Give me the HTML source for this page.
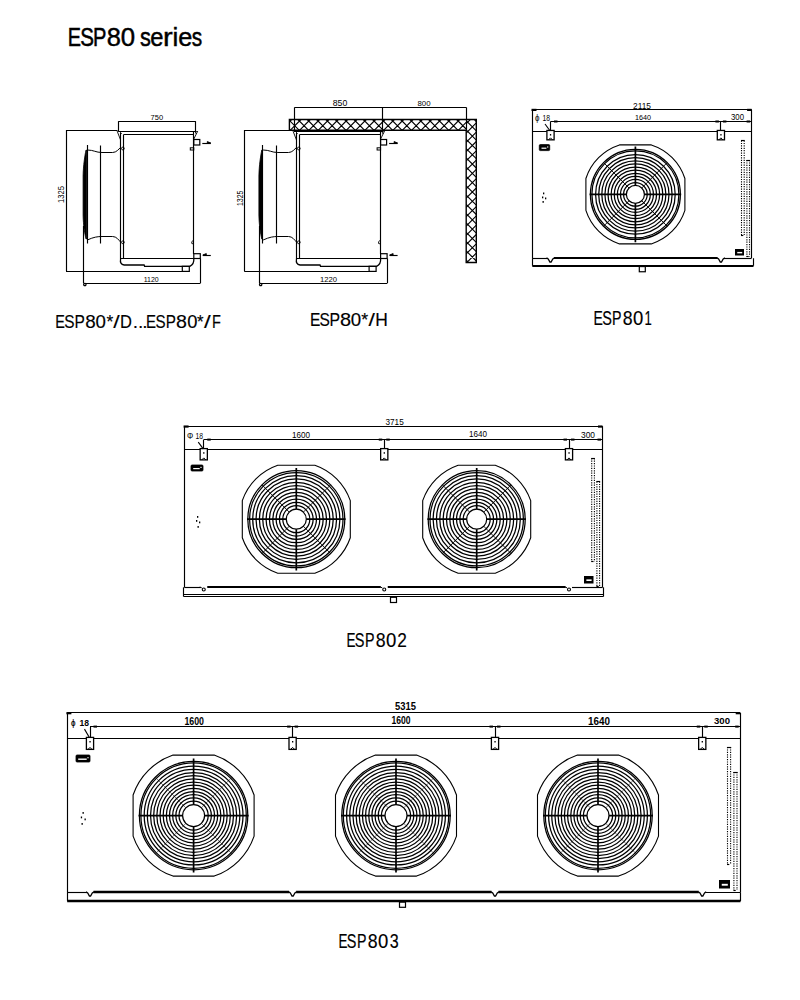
<!DOCTYPE html>
<html><head><meta charset="utf-8"><style>
html,body{margin:0;padding:0;background:#fff;width:800px;height:1000px;overflow:hidden}
svg{position:absolute;left:0;top:0}
</style></head><body>
<svg width="800" height="1000" viewBox="0 0 800 1000" stroke="#000" fill="none" style="font-family:'Liberation Sans',sans-serif">
<line x1="66.5" y1="130" x2="66.5" y2="271.4" stroke-width="1.15"/>
<line x1="66" y1="130.5" x2="117.5" y2="130.5" stroke-width="1.15"/>
<line x1="66" y1="271.5" x2="189.3" y2="271.5" stroke-width="1.15"/>
<path d="M86.0,150 L86.5,150 L86.5,239 L86.0,239 C84.8,234 83.3,226 83.1,215 L83.1,176 C83.3,165 84.8,156 86.0,150 Z" stroke-width="0.8" fill="#000"/>
<line x1="87.5" y1="145" x2="87.5" y2="243.5" stroke-width="1.15"/>
<line x1="83.5" y1="226" x2="83.5" y2="283.3" stroke-width="1.15"/>
<line x1="100.5" y1="145.5" x2="100.5" y2="243.5" stroke-width="1.15"/>
<path d="M87.3,150 C93.8,150 95.8,152.5 102,152.5 L112.6,152.5 C116.6,152.5 118.6,149 120.6,147.5" stroke-width="1.0" fill="none"/>
<path d="M87.3,240 C93.8,237 97.8,236.5 102,236.5 L112.6,236.5 C116.6,236.5 118.6,240 120.6,242" stroke-width="1.0" fill="none"/>
<circle cx="122.89999999999999" cy="148.5" r="1.4" stroke-width="0.9" fill="none"/>
<circle cx="122.89999999999999" cy="242.3" r="1.4" stroke-width="0.9" fill="none"/>
<line x1="118.1" y1="131.5" x2="196.8" y2="131.5" stroke-width="1.15"/>
<line x1="123.89999999999999" y1="134.5" x2="193.8" y2="134.5" stroke-width="1.15"/>
<line x1="120.5" y1="133" x2="120.5" y2="259" stroke-width="1.15"/>
<line x1="123.5" y1="134.4" x2="123.5" y2="258.7" stroke-width="1.15"/>
<line x1="193.5" y1="131.2" x2="193.5" y2="254" stroke-width="1.15"/>
<path d="M117.1,131 L120.6,140 M119.6,131 L121.6,134" stroke-width="0.9" fill="none"/>
<path d="M197.8,131 L193.8,139 M194.8,131 L196.3,134" stroke-width="0.9" fill="none"/>
<rect x="193.8" y="139.5" width="6" height="5.5" stroke-width="1.2" fill="none"/>
<line x1="202.3" y1="143.5" x2="210.8" y2="143.5" stroke-width="1.15"/>
<path d="M210.8,143 L207.3,141.5 L207.3,143 Z" stroke-width="0.8" fill="#000"/>
<rect x="190.3" y="147.8" width="3.5" height="2.2" stroke-width="1.0" fill="none"/>
<path d="M193.8,240 Q190.8,241.5 191.8,243.5 L193.8,244" stroke-width="0.9" fill="none"/>
<rect x="193.8" y="253.7" width="6.5" height="4.8" stroke-width="1.2" fill="none"/>
<line x1="202.8" y1="255.5" x2="210.8" y2="255.5" stroke-width="1.15"/>
<path d="M202.8,255 L206.3,253.5 L206.3,255 Z" stroke-width="0.8" fill="#000"/>
<line x1="200.5" y1="258.5" x2="200.5" y2="283.3" stroke-width="1.15"/>
<line x1="120.6" y1="258.5" x2="193.8" y2="258.5" stroke-width="1.15"/>
<path d="M120.6,258.75 Q119.6,264.5 124.1,265 L144.1,265 L144.6,266.3 L189.8,266.3 Q194.3,264 193.8,258.75" stroke-width="1.3" fill="none"/>
<rect x="182.3" y="266.3" width="7" height="5.1" stroke-width="1.2" fill="none"/>
<line x1="83.8" y1="283.5" x2="200.3" y2="283.5" stroke-width="1.15"/>
<path d="M83.8,283.3 m1,0 a1.2,1.2 0 1 0 0.1,0" stroke-width="1.2" fill="none"/>
<line x1="118.39999999999999" y1="121.5" x2="195.8" y2="121.5" stroke-width="1.15"/>
<line x1="118.5" y1="121.25" x2="118.5" y2="131" stroke-width="1.15"/>
<line x1="195.5" y1="121.25" x2="195.5" y2="131" stroke-width="1.15"/>
<text x="61.150000000000006" y="197.5" fill="#000" stroke="none" font-size="8.52" font-weight="normal" text-anchor="middle" textLength="16.90" lengthAdjust="spacingAndGlyphs" transform="rotate(-90 61.150000000000006 194.45)">1325</text>
<text x="150.60" y="120.00" fill="#000" stroke="none" font-size="7.82" font-weight="normal" textLength="12.50" lengthAdjust="spacingAndGlyphs">750</text>
<text x="143.75" y="282.00" fill="#000" stroke="none" font-size="8.03" font-weight="normal" textLength="15.00" lengthAdjust="spacingAndGlyphs">1120</text>
<line x1="244.3" y1="130.5" x2="289" y2="130.5" stroke-width="1.15"/>
<line x1="244.5" y1="130" x2="244.5" y2="271.4" stroke-width="1.15"/>
<line x1="244.3" y1="271.5" x2="376.1" y2="271.5" stroke-width="1.15"/>
<path d="M261.8,150 L262.3,150 L262.3,239 L261.8,239 C260.6,234 259.1,226 258.90000000000003,215 L258.90000000000003,176 C259.1,165 260.6,156 261.8,150 Z" stroke-width="0.8" fill="#000"/>
<line x1="262.5" y1="145" x2="262.5" y2="243.5" stroke-width="1.15"/>
<line x1="259.5" y1="226" x2="259.5" y2="283.3" stroke-width="1.15"/>
<line x1="276.5" y1="145.5" x2="276.5" y2="243.5" stroke-width="1.15"/>
<path d="M263.1,150 C269.6,150 271.6,152.5 277.9,152.5 L288.5,152.5 C292.5,152.5 294.5,149 296.5,147.5" stroke-width="1.0" fill="none"/>
<path d="M263.1,240 C269.6,237 273.6,236.5 277.9,236.5 L288.5,236.5 C292.5,236.5 294.5,240 296.5,242" stroke-width="1.0" fill="none"/>
<circle cx="298.8" cy="148.5" r="1.4" stroke-width="0.9" fill="none"/>
<circle cx="298.8" cy="242.3" r="1.4" stroke-width="0.9" fill="none"/>
<line x1="294.0" y1="131.5" x2="383.6" y2="131.5" stroke-width="1.15"/>
<line x1="299.8" y1="134.5" x2="380.6" y2="134.5" stroke-width="1.15"/>
<line x1="296.5" y1="133" x2="296.5" y2="259" stroke-width="1.15"/>
<line x1="299.5" y1="134.4" x2="299.5" y2="258.7" stroke-width="1.15"/>
<line x1="380.5" y1="131.2" x2="380.5" y2="254" stroke-width="1.15"/>
<path d="M293.0,131 L296.5,140 M295.5,131 L297.5,134" stroke-width="0.9" fill="none"/>
<path d="M384.6,131 L380.6,139 M381.6,131 L383.1,134" stroke-width="0.9" fill="none"/>
<rect x="380.6" y="139.5" width="6" height="5.5" stroke-width="1.2" fill="none"/>
<line x1="389.1" y1="143.5" x2="397.6" y2="143.5" stroke-width="1.15"/>
<path d="M397.6,143 L394.1,141.5 L394.1,143 Z" stroke-width="0.8" fill="#000"/>
<rect x="377.1" y="147.8" width="3.5" height="2.2" stroke-width="1.0" fill="none"/>
<path d="M380.6,240 Q377.6,241.5 378.6,243.5 L380.6,244" stroke-width="0.9" fill="none"/>
<rect x="380.6" y="253.7" width="6.5" height="4.8" stroke-width="1.2" fill="none"/>
<line x1="389.6" y1="255.5" x2="397.6" y2="255.5" stroke-width="1.15"/>
<path d="M389.6,255 L393.1,253.5 L393.1,255 Z" stroke-width="0.8" fill="#000"/>
<line x1="387.5" y1="258.5" x2="387.5" y2="283.3" stroke-width="1.15"/>
<line x1="296.5" y1="258.5" x2="380.6" y2="258.5" stroke-width="1.15"/>
<path d="M296.5,258.75 Q295.5,264.5 300.0,265 L320.0,265 L320.5,266.3 L376.6,266.3 Q381.1,264 380.6,258.75" stroke-width="1.3" fill="none"/>
<rect x="369.1" y="266.3" width="7" height="5.1" stroke-width="1.2" fill="none"/>
<line x1="259.6" y1="283.5" x2="387.1" y2="283.5" stroke-width="1.15"/>
<path d="M259.6,283.3 m1,0 a1.2,1.2 0 1 0 0.1,0" stroke-width="1.2" fill="none"/>
<clipPath id="c1"><rect x="289.4" y="119.5" width="176.8" height="10.800000000000011"/></clipPath>
<path d="M260.49,119.5 L271.29,130.3 M263.59,119.5 L252.78999999999996,130.3 M269.83000000000004,119.5 L280.63000000000005,130.3 M272.93,119.5 L262.13,130.3 M279.17,119.5 L289.97,130.3 M282.27,119.5 L271.46999999999997,130.3 M288.51000000000005,119.5 L299.31000000000006,130.3 M291.61,119.5 L280.81,130.3 M297.85,119.5 L308.65000000000003,130.3 M300.95,119.5 L290.15,130.3 M307.19,119.5 L317.99,130.3 M310.28999999999996,119.5 L299.48999999999995,130.3 M316.53000000000003,119.5 L327.33000000000004,130.3 M319.63,119.5 L308.83,130.3 M325.87,119.5 L336.67,130.3 M328.96999999999997,119.5 L318.16999999999996,130.3 M335.21000000000004,119.5 L346.01000000000005,130.3 M338.31,119.5 L327.51,130.3 M344.55,119.5 L355.35,130.3 M347.65,119.5 L336.84999999999997,130.3 M353.89000000000004,119.5 L364.69000000000005,130.3 M356.99,119.5 L346.19,130.3 M363.23,119.5 L374.03000000000003,130.3 M366.33,119.5 L355.53,130.3 M372.57000000000005,119.5 L383.37000000000006,130.3 M375.66999999999996,119.5 L364.86999999999995,130.3 M381.91,119.5 L392.71000000000004,130.3 M385.01,119.5 L374.21,130.3 M391.25,119.5 L402.05,130.3 M394.35,119.5 L383.55,130.3 M400.59000000000003,119.5 L411.39000000000004,130.3 M403.69,119.5 L392.89,130.3 M409.93,119.5 L420.73,130.3 M413.03,119.5 L402.22999999999996,130.3 M419.27000000000004,119.5 L430.07000000000005,130.3 M422.37,119.5 L411.57,130.3 M428.61,119.5 L439.41,130.3 M431.71,119.5 L420.90999999999997,130.3 M437.95000000000005,119.5 L448.75000000000006,130.3 M441.04999999999995,119.5 L430.24999999999994,130.3 M447.29,119.5 L458.09000000000003,130.3 M450.39,119.5 L439.59,130.3 M456.63,119.5 L467.43,130.3 M459.73,119.5 L448.93,130.3 M465.97,119.5 L476.77000000000004,130.3 M469.07,119.5 L458.27,130.3 M475.31000000000006,119.5 L486.11000000000007,130.3 M478.40999999999997,119.5 L467.60999999999996,130.3 M484.65000000000003,119.5 L495.45000000000005,130.3 M487.75,119.5 L476.95,130.3 " stroke-width="1.1" clip-path="url(#c1)"/>
<clipPath id="c2"><rect x="466.2" y="119.5" width="10.100000000000023" height="143.0"/></clipPath>
<path d="M466.2,92.8 L476.3,102.90000000000002 M466.2,95.8 L476.3,85.69999999999997 M466.2,102.1 L476.3,112.20000000000002 M466.2,105.1 L476.3,94.99999999999997 M466.2,111.4 L476.3,121.50000000000003 M466.2,114.4 L476.3,104.29999999999998 M466.2,120.7 L476.3,130.8 M466.2,123.7 L476.3,113.59999999999998 M466.2,130.0 L476.3,140.10000000000002 M466.2,133.0 L476.3,122.89999999999998 M466.2,139.3 L476.3,149.40000000000003 M466.2,142.3 L476.3,132.2 M466.2,148.6 L476.3,158.70000000000002 M466.2,151.6 L476.3,141.49999999999997 M466.2,157.9 L476.3,168.00000000000003 M466.2,160.9 L476.3,150.79999999999998 M466.2,167.2 L476.3,177.3 M466.2,170.2 L476.3,160.09999999999997 M466.2,176.5 L476.3,186.60000000000002 M466.2,179.5 L476.3,169.39999999999998 M466.2,185.8 L476.3,195.90000000000003 M466.2,188.8 L476.3,178.7 M466.2,195.10000000000002 L476.3,205.20000000000005 M466.2,198.10000000000002 L476.3,188.0 M466.2,204.4 L476.3,214.50000000000003 M466.2,207.4 L476.3,197.29999999999998 M466.2,213.7 L476.3,223.8 M466.2,216.7 L476.3,206.59999999999997 M466.2,223.0 L476.3,233.10000000000002 M466.2,226.0 L476.3,215.89999999999998 M466.2,232.3 L476.3,242.40000000000003 M466.2,235.3 L476.3,225.2 M466.2,241.60000000000002 L476.3,251.70000000000005 M466.2,244.60000000000002 L476.3,234.5 M466.2,250.9 L476.3,261.0 M466.2,253.9 L476.3,243.79999999999998 M466.2,260.20000000000005 L476.3,270.30000000000007 M466.2,263.20000000000005 L476.3,253.10000000000002 M466.2,269.5 L476.3,279.6 M466.2,272.5 L476.3,262.4 M466.2,278.8 L476.3,288.90000000000003 M466.2,281.8 L476.3,271.7 " stroke-width="1.1" clip-path="url(#c2)"/>
<path d="M289.4,130.3 L289.4,119.5 L476.3,119.5 L476.3,262.5 L466.2,262.5 L466.2,130.3 Z" stroke-width="1.4" fill="none"/>
<line x1="466.5" y1="119.5" x2="466.5" y2="130.3" stroke-width="1.15"/>
<line x1="294.4" y1="107.5" x2="466.5" y2="107.5" stroke-width="1.15"/>
<line x1="294.5" y1="107.5" x2="294.5" y2="130" stroke-width="1.15"/>
<line x1="382.5" y1="107.5" x2="382.5" y2="130" stroke-width="1.15"/>
<line x1="466.5" y1="107.5" x2="466.5" y2="119.5" stroke-width="1.15"/>
<text x="332.75" y="105.75" fill="#000" stroke="none" font-size="9.08" font-weight="normal" textLength="14.50" lengthAdjust="spacingAndGlyphs">850</text>
<text x="417.50" y="105.60" fill="#000" stroke="none" font-size="7.82" font-weight="normal" textLength="13.10" lengthAdjust="spacingAndGlyphs">800</text>
<text x="239.65" y="201.6" fill="#000" stroke="none" font-size="9.36" font-weight="normal" text-anchor="middle" textLength="15.50" lengthAdjust="spacingAndGlyphs" transform="rotate(-90 239.65 198.25)">1325</text>
<text x="320.00" y="281.50" fill="#000" stroke="none" font-size="7.68" font-weight="normal" textLength="17.00" lengthAdjust="spacingAndGlyphs">1220</text>
<line x1="532.3" y1="109.5" x2="751.6" y2="109.5" stroke-width="1.15"/>
<rect x="531.5" y="108.8" width="5" height="2.2" stroke="none" fill="#000"/>
<line x1="532.5" y1="109.6" x2="532.5" y2="258" stroke-width="1.15"/>
<line x1="751.5" y1="109.6" x2="751.5" y2="258" stroke-width="1.15"/>
<line x1="532.3" y1="131.5" x2="751.6" y2="131.5" stroke-width="1.15"/>
<line x1="550.5" y1="121.5" x2="751.6" y2="121.5" stroke-width="1.15"/>
<rect x="747.1" y="108.8" width="4.5" height="2.2" stroke="none" fill="#000"/>
<rect x="554.0" y="120.5" width="3.5" height="2.0" stroke="none" fill="#000"/>
<rect x="715.4" y="120.5" width="3.5" height="2.0" stroke="none" fill="#000"/>
<rect x="722.9" y="120.5" width="3.5" height="2.0" stroke="none" fill="#000"/>
<rect x="746.6" y="120.5" width="3.5" height="2.0" stroke="none" fill="#000"/>
<line x1="550.5" y1="121.5" x2="550.5" y2="131.25" stroke-width="1.15"/>
<rect x="546.9" y="130.45" width="7.2" height="9.4" stroke-width="1.3" fill="#fff"/>
<rect x="549.9" y="134.05" width="1.3" height="1.5" stroke="none" fill="#000"/>
<path d="M548.5,139.85 L550.5,137.85 L552.5,139.85" stroke-width="1.0" fill="none"/>
<line x1="720.5" y1="121.5" x2="720.5" y2="131.25" stroke-width="1.15"/>
<rect x="717.3" y="130.45" width="7.2" height="9.4" stroke-width="1.3" fill="#fff"/>
<rect x="720.3" y="134.05" width="1.3" height="1.5" stroke="none" fill="#000"/>
<path d="M718.9,139.85 L720.9,137.85 L722.9,139.85" stroke-width="1.0" fill="none"/>
<line x1="545.0" y1="124.0" x2="550.0" y2="130.75" stroke-width="1.1"/>
<text x="535.00" y="121.00" fill="#000" stroke="none" font-size="9.78" font-weight="normal" textLength="4.50" lengthAdjust="spacingAndGlyphs">ϕ</text>
<text x="542.50" y="120.50" fill="#000" stroke="none" font-size="8.38" font-weight="normal" textLength="7.50" lengthAdjust="spacingAndGlyphs">18</text>
<text x="635.00" y="119.50" fill="#000" stroke="none" font-size="7.68" font-weight="normal" textLength="16.00" lengthAdjust="spacingAndGlyphs">1640</text>
<text x="633.00" y="109.00" fill="#000" stroke="none" font-size="8.38" font-weight="normal" textLength="18.00" lengthAdjust="spacingAndGlyphs">2115</text>
<text x="731.00" y="120.00" fill="#000" stroke="none" font-size="9.08" font-weight="normal" textLength="13.00" lengthAdjust="spacingAndGlyphs">300</text>
<path d="M540.3,144.6 L548.6999999999999,144.6 Q549.6999999999999,144.6 549.6999999999999,145.6 L549.6999999999999,149.6 Q549.6999999999999,150.6 548.6999999999999,150.6 L540.3,150.6 Q539.3,150.6 539.3,149.6 L539.3,145.6 Q539.3,144.6 540.3,144.6 Z" stroke-width="0.8" fill="#000"/>
<rect x="541.5" y="147.6" width="4.9" height="1.2000000000000002" stroke="none" fill="#fff"/>
<rect x="547.0999999999999" y="146.4" width="1.2" height="1.2" stroke="none" fill="#fff"/>
<rect x="735" y="249" width="9" height="6.5" stroke="none" fill="#000"/>
<rect x="737.25" y="251.925" width="4.95" height="1.43" stroke="none" fill="#fff"/>
<line x1="741.5" y1="140.5" x2="741.5" y2="235" stroke-width="1.1" stroke-dasharray="1.2 1.2"/>
<line x1="741.0" y1="140.5" x2="744.7" y2="140.5" stroke-width="1.15"/>
<line x1="741.0" y1="235.5" x2="743.3" y2="235.5" stroke-width="1.15"/>
<line x1="744.2" y1="140.5" x2="744.2" y2="235" stroke-width="1.1" stroke-dasharray="1.2 1.2"/>
<line x1="746.9" y1="160" x2="746.9" y2="256.5" stroke-width="1.1" stroke-dasharray="1.2 1.2"/>
<line x1="746.4" y1="160.5" x2="750.0" y2="160.5" stroke-width="1.15"/>
<line x1="746.4" y1="256.5" x2="748.6999999999999" y2="256.5" stroke-width="1.15"/>
<line x1="749.5" y1="160" x2="749.5" y2="256.5" stroke-width="1.1" stroke-dasharray="1.2 1.2"/>
<path d="M619.470467677926,144.9 L651.329532322074,144.9 A52,52 0 0 1 684.9,178.47046767792602 L684.9,210.329532322074 A52,52 0 0 1 651.329532322074,243.9 L619.470467677926,243.9 A52,52 0 0 1 585.9,210.329532322074 L585.9,178.47046767792602 A52,52 0 0 1 619.470467677926,144.9 Z" stroke-width="1.1" fill="none"/>
<circle cx="635.4" cy="194.4" r="45" stroke-width="1.25" fill="none"/>
<circle cx="635.4" cy="194.4" r="43.5" stroke-width="1.25" fill="none"/>
<circle cx="635.4" cy="194.4" r="39.8" stroke-width="1.25" fill="none"/>
<circle cx="635.4" cy="194.4" r="36.69" stroke-width="1.25" fill="none"/>
<circle cx="635.4" cy="194.4" r="33.58" stroke-width="1.25" fill="none"/>
<circle cx="635.4" cy="194.4" r="30.47" stroke-width="1.25" fill="none"/>
<circle cx="635.4" cy="194.4" r="27.36" stroke-width="1.25" fill="none"/>
<circle cx="635.4" cy="194.4" r="24.24" stroke-width="1.25" fill="none"/>
<circle cx="635.4" cy="194.4" r="21.13" stroke-width="1.25" fill="none"/>
<circle cx="635.4" cy="194.4" r="18.02" stroke-width="1.25" fill="none"/>
<circle cx="635.4" cy="194.4" r="14.91" stroke-width="1.25" fill="none"/>
<circle cx="635.4" cy="194.4" r="11.8" stroke-width="1.25" fill="none"/>
<circle cx="635.4" cy="194.4" r="9" stroke-width="1.2" fill="none"/>
<path d="M589.6,194.4 L626.4,194.4 M644.4,194.4 L681.1999999999999,194.4 M635.4,146.60000000000002 L635.4,185.4 M635.4,203.4 L635.4,242.2" stroke-width="1.7" fill="none"/>
<line x1="629.036038969321" y1="188.03603896932108" x2="603.5801948466053" y2="162.58019484660537" stroke-width="0.9"/>
<line x1="629.036038969321" y1="200.76396103067893" x2="603.5801948466053" y2="226.21980515339465" stroke-width="0.9"/>
<line x1="641.763961030679" y1="188.03603896932108" x2="667.2198051533946" y2="162.58019484660537" stroke-width="0.9"/>
<line x1="641.763961030679" y1="200.76396103067893" x2="667.2198051533946" y2="226.21980515339465" stroke-width="0.9"/>
<line x1="532.3" y1="258.5" x2="547.5" y2="258.5" stroke-width="1.15"/>
<line x1="723.9" y1="258.5" x2="751.6" y2="258.5" stroke-width="1.15"/>
<line x1="554.0" y1="258" x2="717.4" y2="258" stroke-width="2.0"/>
<path d="M546.5,257.9 L548.2,259.0 L549.9,262.0 L551.1,262.0 L552.8,259.0 L554.5,257.9" stroke-width="1.3" fill="none"/>
<path d="M716.9,257.9 L718.6,259.0 L720.3,262.0 L721.5,262.0 L723.1999999999999,259.0 L724.9,257.9" stroke-width="1.3" fill="none"/>
<line x1="532.3" y1="266" x2="753.5" y2="266" stroke-width="2.0"/>
<line x1="532.5" y1="258.2" x2="532.5" y2="265.75" stroke-width="1.15"/>
<line x1="753.5" y1="258.2" x2="753.5" y2="265.75" stroke-width="1.15"/>
<rect x="639.3" y="266.55" width="6" height="5.2" stroke-width="1.2" fill="none"/>
<rect x="543" y="192.5" width="1.3" height="1.8" stroke="none" fill="#000"/>
<rect x="542" y="196.5" width="1.3" height="1.8" stroke="none" fill="#000"/>
<rect x="545" y="197.5" width="1.3" height="1.8" stroke="none" fill="#000"/>
<rect x="542.5" y="201" width="1.3" height="1.8" stroke="none" fill="#000"/>
<line x1="184.4" y1="426.5" x2="602.5" y2="426.5" stroke-width="1.15"/>
<rect x="183.6" y="425.45" width="5" height="2.2" stroke="none" fill="#000"/>
<line x1="184.5" y1="426.25" x2="184.5" y2="587.5" stroke-width="1.15"/>
<line x1="602.5" y1="426.25" x2="602.5" y2="587.5" stroke-width="1.15"/>
<line x1="184.4" y1="449.5" x2="602.5" y2="449.5" stroke-width="1.15"/>
<line x1="203.75" y1="439.5" x2="602.5" y2="439.5" stroke-width="1.15"/>
<rect x="598.0" y="425.45" width="4.5" height="2.2" stroke="none" fill="#000"/>
<rect x="207.25" y="438.6" width="3.5" height="2.0" stroke="none" fill="#000"/>
<rect x="378.75" y="438.6" width="3.5" height="2.0" stroke="none" fill="#000"/>
<rect x="386.25" y="438.6" width="3.5" height="2.0" stroke="none" fill="#000"/>
<rect x="563.5" y="438.6" width="3.5" height="2.0" stroke="none" fill="#000"/>
<rect x="571" y="438.6" width="3.5" height="2.0" stroke="none" fill="#000"/>
<rect x="597.5" y="438.6" width="3.5" height="2.0" stroke="none" fill="#000"/>
<line x1="203.5" y1="439.6" x2="203.5" y2="449.4" stroke-width="1.15"/>
<rect x="200.15" y="448.59999999999997" width="7.2" height="11.3" stroke-width="1.3" fill="#fff"/>
<rect x="203.15" y="452.2" width="1.3" height="1.5" stroke="none" fill="#000"/>
<path d="M201.75,459.9 L203.75,457.9 L205.75,459.9" stroke-width="1.0" fill="none"/>
<line x1="384.5" y1="439.6" x2="384.5" y2="449.4" stroke-width="1.15"/>
<rect x="380.65" y="448.59999999999997" width="7.2" height="11.3" stroke-width="1.3" fill="#fff"/>
<rect x="383.65" y="452.2" width="1.3" height="1.5" stroke="none" fill="#000"/>
<path d="M382.25,459.9 L384.25,457.9 L386.25,459.9" stroke-width="1.0" fill="none"/>
<line x1="569.5" y1="439.6" x2="569.5" y2="449.4" stroke-width="1.15"/>
<rect x="565.4" y="448.59999999999997" width="7.2" height="11.3" stroke-width="1.3" fill="#fff"/>
<rect x="568.4" y="452.2" width="1.3" height="1.5" stroke="none" fill="#000"/>
<path d="M567,459.9 L569,457.9 L571,459.9" stroke-width="1.0" fill="none"/>
<line x1="198.25" y1="442.1" x2="203.25" y2="448.9" stroke-width="1.1"/>
<text x="186.90" y="438.75" fill="#000" stroke="none" font-size="9.15" font-weight="normal" textLength="6.20" lengthAdjust="spacingAndGlyphs">Φ</text>
<text x="195.50" y="438.75" fill="#000" stroke="none" font-size="9.15" font-weight="normal" textLength="7.50" lengthAdjust="spacingAndGlyphs">18</text>
<text x="292.00" y="437.50" fill="#000" stroke="none" font-size="8.73" font-weight="normal" textLength="18.00" lengthAdjust="spacingAndGlyphs">1600</text>
<text x="469.00" y="437.40" fill="#000" stroke="none" font-size="8.94" font-weight="normal" textLength="18.00" lengthAdjust="spacingAndGlyphs">1640</text>
<text x="581.00" y="437.50" fill="#000" stroke="none" font-size="8.38" font-weight="normal" textLength="14.00" lengthAdjust="spacingAndGlyphs">300</text>
<text x="385.50" y="424.50" fill="#000" stroke="none" font-size="8.73" font-weight="normal" textLength="18.25" lengthAdjust="spacingAndGlyphs">3715</text>
<path d="M192,465 L202,465 Q203,465 203,466 L203,470 Q203,471 202,471 L192,471 Q191,471 191,470 L191,466 Q191,465 192,465 Z" stroke-width="0.8" fill="#000"/>
<rect x="193.2" y="468.0" width="6.5" height="1.2000000000000002" stroke="none" fill="#fff"/>
<rect x="200.4" y="466.8" width="1.2" height="1.2" stroke="none" fill="#fff"/>
<rect x="584" y="576" width="9.5" height="7.5" stroke="none" fill="#000"/>
<rect x="586.375" y="579.375" width="5.2250000000000005" height="1.65" stroke="none" fill="#fff"/>
<line x1="591.7" y1="458.2" x2="591.7" y2="561.7" stroke-width="1.1" stroke-dasharray="1.2 1.2"/>
<line x1="591.2" y1="458.5" x2="594.9" y2="458.5" stroke-width="1.15"/>
<line x1="591.2" y1="561.5" x2="593.5" y2="561.5" stroke-width="1.15"/>
<line x1="594.4" y1="458.2" x2="594.4" y2="561.7" stroke-width="1.1" stroke-dasharray="1.2 1.2"/>
<line x1="596.9" y1="481.5" x2="596.9" y2="586" stroke-width="1.1" stroke-dasharray="1.2 1.2"/>
<line x1="596.4" y1="481.5" x2="600.1" y2="481.5" stroke-width="1.15"/>
<line x1="596.4" y1="586.5" x2="598.6999999999999" y2="586.5" stroke-width="1.15"/>
<line x1="599.6" y1="481.5" x2="599.6" y2="586" stroke-width="1.1" stroke-dasharray="1.2 1.2"/>
<path d="M277.7417134411606,465.20000000000005 L314.85828655883944,465.20000000000005 A57.1,57.1 0 0 1 350.3,500.6417134411606 L350.3,537.7582865588395 A57.1,57.1 0 0 1 314.85828655883944,573.2 L277.7417134411606,573.2 A57.1,57.1 0 0 1 242.3,537.7582865588395 L242.3,500.6417134411606 A57.1,57.1 0 0 1 277.7417134411606,465.20000000000005 Z" stroke-width="1.1" fill="none"/>
<circle cx="296.3" cy="519.2" r="48.5" stroke-width="1.25" fill="none"/>
<circle cx="296.3" cy="519.2" r="46.7" stroke-width="1.25" fill="none"/>
<circle cx="296.3" cy="519.2" r="43.6" stroke-width="1.25" fill="none"/>
<circle cx="296.3" cy="519.2" r="40.26" stroke-width="1.25" fill="none"/>
<circle cx="296.3" cy="519.2" r="36.91" stroke-width="1.25" fill="none"/>
<circle cx="296.3" cy="519.2" r="33.57" stroke-width="1.25" fill="none"/>
<circle cx="296.3" cy="519.2" r="30.22" stroke-width="1.25" fill="none"/>
<circle cx="296.3" cy="519.2" r="26.88" stroke-width="1.25" fill="none"/>
<circle cx="296.3" cy="519.2" r="23.53" stroke-width="1.25" fill="none"/>
<circle cx="296.3" cy="519.2" r="20.19" stroke-width="1.25" fill="none"/>
<circle cx="296.3" cy="519.2" r="16.84" stroke-width="1.25" fill="none"/>
<circle cx="296.3" cy="519.2" r="13.5" stroke-width="1.25" fill="none"/>
<circle cx="296.3" cy="519.2" r="10" stroke-width="1.2" fill="none"/>
<path d="M247.0,519.2 L286.3,519.2 M306.3,519.2 L345.6,519.2 M296.3,467.90000000000003 L296.3,509.20000000000005 M296.3,529.2 L296.3,570.5" stroke-width="1.7" fill="none"/>
<line x1="289.22893218813454" y1="512.1289321881346" x2="262.00532111245246" y2="484.9053211124525" stroke-width="0.9"/>
<line x1="289.22893218813454" y1="526.2710678118655" x2="262.00532111245246" y2="553.4946788875476" stroke-width="0.9"/>
<line x1="303.3710678118655" y1="512.1289321881346" x2="330.59467888754756" y2="484.9053211124525" stroke-width="0.9"/>
<line x1="303.3710678118655" y1="526.2710678118655" x2="330.59467888754756" y2="553.4946788875476" stroke-width="0.9"/>
<path d="M458.14171344116056,465.20000000000005 L495.2582865588394,465.20000000000005 A57.1,57.1 0 0 1 530.7,500.6417134411606 L530.7,537.7582865588395 A57.1,57.1 0 0 1 495.2582865588394,573.2 L458.14171344116056,573.2 A57.1,57.1 0 0 1 422.7,537.7582865588395 L422.7,500.6417134411606 A57.1,57.1 0 0 1 458.14171344116056,465.20000000000005 Z" stroke-width="1.1" fill="none"/>
<circle cx="476.7" cy="519.2" r="48.5" stroke-width="1.25" fill="none"/>
<circle cx="476.7" cy="519.2" r="46.7" stroke-width="1.25" fill="none"/>
<circle cx="476.7" cy="519.2" r="43.6" stroke-width="1.25" fill="none"/>
<circle cx="476.7" cy="519.2" r="40.26" stroke-width="1.25" fill="none"/>
<circle cx="476.7" cy="519.2" r="36.91" stroke-width="1.25" fill="none"/>
<circle cx="476.7" cy="519.2" r="33.57" stroke-width="1.25" fill="none"/>
<circle cx="476.7" cy="519.2" r="30.22" stroke-width="1.25" fill="none"/>
<circle cx="476.7" cy="519.2" r="26.88" stroke-width="1.25" fill="none"/>
<circle cx="476.7" cy="519.2" r="23.53" stroke-width="1.25" fill="none"/>
<circle cx="476.7" cy="519.2" r="20.19" stroke-width="1.25" fill="none"/>
<circle cx="476.7" cy="519.2" r="16.84" stroke-width="1.25" fill="none"/>
<circle cx="476.7" cy="519.2" r="13.5" stroke-width="1.25" fill="none"/>
<circle cx="476.7" cy="519.2" r="10" stroke-width="1.2" fill="none"/>
<path d="M427.4,519.2 L466.7,519.2 M486.7,519.2 L526.0,519.2 M476.7,467.90000000000003 L476.7,509.20000000000005 M476.7,529.2 L476.7,570.5" stroke-width="1.7" fill="none"/>
<line x1="469.6289321881345" y1="512.1289321881346" x2="442.40532111245244" y2="484.9053211124525" stroke-width="0.9"/>
<line x1="469.6289321881345" y1="526.2710678118655" x2="442.40532111245244" y2="553.4946788875476" stroke-width="0.9"/>
<line x1="483.77106781186546" y1="512.1289321881346" x2="510.99467888754754" y2="484.9053211124525" stroke-width="0.9"/>
<line x1="483.77106781186546" y1="526.2710678118655" x2="510.99467888754754" y2="553.4946788875476" stroke-width="0.9"/>
<line x1="184.4" y1="587.5" x2="200.75" y2="587.5" stroke-width="1.15"/>
<line x1="572" y1="587.5" x2="602.5" y2="587.5" stroke-width="1.15"/>
<line x1="207.25" y1="587" x2="380.75" y2="587" stroke-width="2.0"/>
<line x1="387.75" y1="587" x2="565.5" y2="587" stroke-width="2.0"/>
<path d="M199.75,587.0 L201.75,587.8" stroke-width="1.0" fill="none"/>
<circle cx="203.75" cy="589.5" r="1.5" stroke-width="1.1" fill="#fff"/>
<path d="M380.25,587.0 L382.25,587.8" stroke-width="1.0" fill="none"/>
<circle cx="384.25" cy="589.5" r="1.5" stroke-width="1.1" fill="#fff"/>
<path d="M565,587.0 L567,587.8" stroke-width="1.0" fill="none"/>
<circle cx="569" cy="589.5" r="1.5" stroke-width="1.1" fill="#fff"/>
<line x1="183.5" y1="594.5" x2="603.5" y2="594.5" stroke-width="1.15"/>
<line x1="183.5" y1="596.5" x2="603.5" y2="596.5" stroke-width="1.15"/>
<line x1="183.5" y1="587.3" x2="183.5" y2="596.5" stroke-width="1.15"/>
<line x1="603.5" y1="587.3" x2="603.5" y2="596.5" stroke-width="1.15"/>
<rect x="390.5" y="597.3" width="6" height="5.2" stroke-width="1.2" fill="none"/>
<rect x="197" y="516" width="1.3" height="1.8" stroke="none" fill="#000"/>
<rect x="196" y="520" width="1.3" height="1.8" stroke="none" fill="#000"/>
<rect x="199" y="521.5" width="1.3" height="1.8" stroke="none" fill="#000"/>
<rect x="197.5" y="526" width="1.3" height="1.8" stroke="none" fill="#000"/>
<line x1="67.2" y1="712.5" x2="740.2" y2="712.5" stroke-width="1.15"/>
<rect x="66.4" y="712.1" width="5" height="2.2" stroke="none" fill="#000"/>
<line x1="67.5" y1="712.9" x2="67.5" y2="892.2" stroke-width="1.15"/>
<line x1="740.5" y1="712.9" x2="740.5" y2="892.2" stroke-width="1.15"/>
<line x1="67.2" y1="738.5" x2="740.2" y2="738.5" stroke-width="1.15"/>
<line x1="90" y1="726.5" x2="740.2" y2="726.5" stroke-width="1.15"/>
<rect x="735.7" y="712.1" width="4.5" height="2.2" stroke="none" fill="#000"/>
<rect x="93.5" y="725.6" width="3.5" height="2.0" stroke="none" fill="#000"/>
<rect x="287.1" y="725.6" width="3.5" height="2.0" stroke="none" fill="#000"/>
<rect x="294.6" y="725.6" width="3.5" height="2.0" stroke="none" fill="#000"/>
<rect x="489.5" y="725.6" width="3.5" height="2.0" stroke="none" fill="#000"/>
<rect x="497" y="725.6" width="3.5" height="2.0" stroke="none" fill="#000"/>
<rect x="696.75" y="725.6" width="3.5" height="2.0" stroke="none" fill="#000"/>
<rect x="704.25" y="725.6" width="3.5" height="2.0" stroke="none" fill="#000"/>
<rect x="735.2" y="725.6" width="3.5" height="2.0" stroke="none" fill="#000"/>
<line x1="90.5" y1="726.6" x2="90.5" y2="738.2" stroke-width="1.15"/>
<rect x="86.4" y="737.4000000000001" width="7.2" height="12" stroke-width="1.3" fill="#fff"/>
<rect x="89.4" y="741.0" width="1.3" height="1.5" stroke="none" fill="#000"/>
<path d="M88,749.4000000000001 L90,747.4000000000001 L92,749.4000000000001" stroke-width="1.0" fill="none"/>
<line x1="292.5" y1="726.6" x2="292.5" y2="738.2" stroke-width="1.15"/>
<rect x="289.0" y="737.4000000000001" width="7.2" height="12" stroke-width="1.3" fill="#fff"/>
<rect x="292.0" y="741.0" width="1.3" height="1.5" stroke="none" fill="#000"/>
<path d="M290.6,749.4000000000001 L292.6,747.4000000000001 L294.6,749.4000000000001" stroke-width="1.0" fill="none"/>
<line x1="495.5" y1="726.6" x2="495.5" y2="738.2" stroke-width="1.15"/>
<rect x="491.4" y="737.4000000000001" width="7.2" height="12" stroke-width="1.3" fill="#fff"/>
<rect x="494.4" y="741.0" width="1.3" height="1.5" stroke="none" fill="#000"/>
<path d="M493,749.4000000000001 L495,747.4000000000001 L497,749.4000000000001" stroke-width="1.0" fill="none"/>
<line x1="702.5" y1="726.6" x2="702.5" y2="738.2" stroke-width="1.15"/>
<rect x="698.65" y="737.4000000000001" width="7.2" height="12" stroke-width="1.3" fill="#fff"/>
<rect x="701.65" y="741.0" width="1.3" height="1.5" stroke="none" fill="#000"/>
<path d="M700.25,749.4000000000001 L702.25,747.4000000000001 L704.25,749.4000000000001" stroke-width="1.0" fill="none"/>
<line x1="84.5" y1="729.1" x2="89.5" y2="737.7" stroke-width="1.1"/>
<text x="71.00" y="726.00" fill="#000" stroke="none" font-size="9.78" font-weight="bold" textLength="4.50" lengthAdjust="spacingAndGlyphs">ϕ</text>
<text x="79.50" y="726.00" fill="#000" stroke="none" font-size="9.78" font-weight="bold" textLength="9.50" lengthAdjust="spacingAndGlyphs">18</text>
<text x="184.40" y="724.70" fill="#000" stroke="none" font-size="11.31" font-weight="bold" textLength="19.60" lengthAdjust="spacingAndGlyphs">1600</text>
<text x="391.60" y="724.25" fill="#000" stroke="none" font-size="10.47" font-weight="bold" textLength="19.00" lengthAdjust="spacingAndGlyphs">1600</text>
<text x="588.00" y="725.00" fill="#000" stroke="none" font-size="11.17" font-weight="bold" textLength="22.00" lengthAdjust="spacingAndGlyphs">1640</text>
<text x="714.00" y="724.00" fill="#000" stroke="none" font-size="9.78" font-weight="bold" textLength="16.00" lengthAdjust="spacingAndGlyphs">300</text>
<text x="395.00" y="710.20" fill="#000" stroke="none" font-size="10.47" font-weight="bold" textLength="20.90" lengthAdjust="spacingAndGlyphs">5315</text>
<path d="M77,755 L89,755 Q90,755 90,756 L90,761 Q90,762 89,762 L77,762 Q76,762 76,761 L76,756 Q76,755 77,755 Z" stroke-width="0.8" fill="#000"/>
<rect x="78.2" y="758.5" width="8.5" height="1.4000000000000001" stroke="none" fill="#fff"/>
<rect x="87.4" y="757.1" width="1.2" height="1.2" stroke="none" fill="#fff"/>
<rect x="719" y="880" width="11" height="8.5" stroke="none" fill="#000"/>
<rect x="721.75" y="883.825" width="6.050000000000001" height="1.87" stroke="none" fill="#fff"/>
<line x1="727.5" y1="747" x2="727.5" y2="864" stroke-width="1.1" stroke-dasharray="1.2 1.2"/>
<line x1="727.0" y1="747.5" x2="731.1" y2="747.5" stroke-width="1.15"/>
<line x1="727.0" y1="864.5" x2="729.3" y2="864.5" stroke-width="1.15"/>
<line x1="730.6" y1="747" x2="730.6" y2="864" stroke-width="1.1" stroke-dasharray="1.2 1.2"/>
<line x1="733.9" y1="772" x2="733.9" y2="890" stroke-width="1.1" stroke-dasharray="1.2 1.2"/>
<line x1="733.4" y1="772.5" x2="737.5" y2="772.5" stroke-width="1.15"/>
<line x1="733.4" y1="890.5" x2="735.6999999999999" y2="890.5" stroke-width="1.15"/>
<line x1="737" y1="772" x2="737" y2="890" stroke-width="1.1" stroke-dasharray="1.2 1.2"/>
<path d="M173.03400865506356,755.1 L214.16599134493643,755.1 A63.9,63.9 0 0 1 254.1,795.0340086550636 L254.1,836.1659913449364 A63.9,63.9 0 0 1 214.16599134493643,876.1 L173.03400865506356,876.1 A63.9,63.9 0 0 1 133.1,836.1659913449364 L133.1,795.0340086550636 A63.9,63.9 0 0 1 173.03400865506356,755.1 Z" stroke-width="1.1" fill="none"/>
<circle cx="193.6" cy="815.6" r="54.2" stroke-width="1.25" fill="none"/>
<circle cx="193.6" cy="815.6" r="52.7" stroke-width="1.25" fill="none"/>
<circle cx="193.6" cy="815.6" r="49.4" stroke-width="1.25" fill="none"/>
<circle cx="193.6" cy="815.6" r="46.24" stroke-width="1.25" fill="none"/>
<circle cx="193.6" cy="815.6" r="43.07" stroke-width="1.25" fill="none"/>
<circle cx="193.6" cy="815.6" r="39.91" stroke-width="1.25" fill="none"/>
<circle cx="193.6" cy="815.6" r="36.75" stroke-width="1.25" fill="none"/>
<circle cx="193.6" cy="815.6" r="33.58" stroke-width="1.25" fill="none"/>
<circle cx="193.6" cy="815.6" r="30.42" stroke-width="1.25" fill="none"/>
<circle cx="193.6" cy="815.6" r="27.25" stroke-width="1.25" fill="none"/>
<circle cx="193.6" cy="815.6" r="24.09" stroke-width="1.25" fill="none"/>
<circle cx="193.6" cy="815.6" r="20.93" stroke-width="1.25" fill="none"/>
<circle cx="193.6" cy="815.6" r="17.76" stroke-width="1.25" fill="none"/>
<circle cx="193.6" cy="815.6" r="14.6" stroke-width="1.25" fill="none"/>
<circle cx="193.6" cy="815.6" r="11" stroke-width="1.2" fill="none"/>
<path d="M138.6,815.6 L182.6,815.6 M204.6,815.6 L248.6,815.6 M193.6,758.6 L193.6,804.6 M193.6,826.6 L193.6,872.6" stroke-width="1.7" fill="none"/>
<line x1="185.82182540694797" y1="807.821825406948" x2="155.27481245968912" y2="777.2748124596892" stroke-width="0.5"/>
<line x1="185.82182540694797" y1="823.378174593052" x2="155.27481245968912" y2="853.9251875403108" stroke-width="0.5"/>
<line x1="201.37817459305202" y1="807.821825406948" x2="231.92518754031087" y2="777.2748124596892" stroke-width="0.5"/>
<line x1="201.37817459305202" y1="823.378174593052" x2="231.92518754031087" y2="853.9251875403108" stroke-width="0.5"/>
<path d="M375.43400865506356,755.1 L416.56599134493644,755.1 A63.9,63.9 0 0 1 456.5,795.0340086550636 L456.5,836.1659913449364 A63.9,63.9 0 0 1 416.56599134493644,876.1 L375.43400865506356,876.1 A63.9,63.9 0 0 1 335.5,836.1659913449364 L335.5,795.0340086550636 A63.9,63.9 0 0 1 375.43400865506356,755.1 Z" stroke-width="1.1" fill="none"/>
<circle cx="396" cy="815.6" r="54.2" stroke-width="1.25" fill="none"/>
<circle cx="396" cy="815.6" r="52.7" stroke-width="1.25" fill="none"/>
<circle cx="396" cy="815.6" r="49.4" stroke-width="1.25" fill="none"/>
<circle cx="396" cy="815.6" r="46.24" stroke-width="1.25" fill="none"/>
<circle cx="396" cy="815.6" r="43.07" stroke-width="1.25" fill="none"/>
<circle cx="396" cy="815.6" r="39.91" stroke-width="1.25" fill="none"/>
<circle cx="396" cy="815.6" r="36.75" stroke-width="1.25" fill="none"/>
<circle cx="396" cy="815.6" r="33.58" stroke-width="1.25" fill="none"/>
<circle cx="396" cy="815.6" r="30.42" stroke-width="1.25" fill="none"/>
<circle cx="396" cy="815.6" r="27.25" stroke-width="1.25" fill="none"/>
<circle cx="396" cy="815.6" r="24.09" stroke-width="1.25" fill="none"/>
<circle cx="396" cy="815.6" r="20.93" stroke-width="1.25" fill="none"/>
<circle cx="396" cy="815.6" r="17.76" stroke-width="1.25" fill="none"/>
<circle cx="396" cy="815.6" r="14.6" stroke-width="1.25" fill="none"/>
<circle cx="396" cy="815.6" r="11" stroke-width="1.2" fill="none"/>
<path d="M341.0,815.6 L385,815.6 M407,815.6 L451.0,815.6 M396,758.6 L396,804.6 M396,826.6 L396,872.6" stroke-width="1.7" fill="none"/>
<line x1="388.22182540694797" y1="807.821825406948" x2="357.6748124596891" y2="777.2748124596892" stroke-width="0.5"/>
<line x1="388.22182540694797" y1="823.378174593052" x2="357.6748124596891" y2="853.9251875403108" stroke-width="0.5"/>
<line x1="403.77817459305203" y1="807.821825406948" x2="434.3251875403109" y2="777.2748124596892" stroke-width="0.5"/>
<line x1="403.77817459305203" y1="823.378174593052" x2="434.3251875403109" y2="853.9251875403108" stroke-width="0.5"/>
<path d="M577.4340086550636,755.1 L618.5659913449364,755.1 A63.9,63.9 0 0 1 658.5,795.0340086550636 L658.5,836.1659913449364 A63.9,63.9 0 0 1 618.5659913449364,876.1 L577.4340086550636,876.1 A63.9,63.9 0 0 1 537.5,836.1659913449364 L537.5,795.0340086550636 A63.9,63.9 0 0 1 577.4340086550636,755.1 Z" stroke-width="1.1" fill="none"/>
<circle cx="598" cy="815.6" r="54.2" stroke-width="1.25" fill="none"/>
<circle cx="598" cy="815.6" r="52.7" stroke-width="1.25" fill="none"/>
<circle cx="598" cy="815.6" r="49.4" stroke-width="1.25" fill="none"/>
<circle cx="598" cy="815.6" r="46.24" stroke-width="1.25" fill="none"/>
<circle cx="598" cy="815.6" r="43.07" stroke-width="1.25" fill="none"/>
<circle cx="598" cy="815.6" r="39.91" stroke-width="1.25" fill="none"/>
<circle cx="598" cy="815.6" r="36.75" stroke-width="1.25" fill="none"/>
<circle cx="598" cy="815.6" r="33.58" stroke-width="1.25" fill="none"/>
<circle cx="598" cy="815.6" r="30.42" stroke-width="1.25" fill="none"/>
<circle cx="598" cy="815.6" r="27.25" stroke-width="1.25" fill="none"/>
<circle cx="598" cy="815.6" r="24.09" stroke-width="1.25" fill="none"/>
<circle cx="598" cy="815.6" r="20.93" stroke-width="1.25" fill="none"/>
<circle cx="598" cy="815.6" r="17.76" stroke-width="1.25" fill="none"/>
<circle cx="598" cy="815.6" r="14.6" stroke-width="1.25" fill="none"/>
<circle cx="598" cy="815.6" r="11" stroke-width="1.2" fill="none"/>
<path d="M543.0,815.6 L587,815.6 M609,815.6 L653.0,815.6 M598,758.6 L598,804.6 M598,826.6 L598,872.6" stroke-width="1.7" fill="none"/>
<line x1="590.221825406948" y1="807.821825406948" x2="559.6748124596892" y2="777.2748124596892" stroke-width="0.5"/>
<line x1="590.221825406948" y1="823.378174593052" x2="559.6748124596892" y2="853.9251875403108" stroke-width="0.5"/>
<line x1="605.778174593052" y1="807.821825406948" x2="636.3251875403108" y2="777.2748124596892" stroke-width="0.5"/>
<line x1="605.778174593052" y1="823.378174593052" x2="636.3251875403108" y2="853.9251875403108" stroke-width="0.5"/>
<line x1="67.2" y1="892.5" x2="87" y2="892.5" stroke-width="1.15"/>
<line x1="705.25" y1="892.5" x2="740.2" y2="892.5" stroke-width="1.15"/>
<line x1="93.5" y1="892" x2="289.1" y2="892" stroke-width="2.5"/>
<line x1="296.1" y1="892" x2="491.5" y2="892" stroke-width="2.5"/>
<line x1="498.5" y1="892" x2="698.75" y2="892" stroke-width="2.5"/>
<path d="M86,891.9000000000001 L87.7,893.0 L89.4,896.0 L90.6,896.0 L92.3,893.0 L94,891.9000000000001" stroke-width="1.3" fill="none"/>
<path d="M288.6,891.9000000000001 L290.3,893.0 L292.0,896.0 L293.20000000000005,896.0 L294.90000000000003,893.0 L296.6,891.9000000000001" stroke-width="1.3" fill="none"/>
<path d="M491,891.9000000000001 L492.7,893.0 L494.4,896.0 L495.6,896.0 L497.3,893.0 L499,891.9000000000001" stroke-width="1.3" fill="none"/>
<path d="M698.25,891.9000000000001 L699.95,893.0 L701.65,896.0 L702.85,896.0 L704.55,893.0 L706.25,891.9000000000001" stroke-width="1.3" fill="none"/>
<line x1="67.2" y1="901" x2="740.4" y2="901" stroke-width="2.5"/>
<line x1="67.5" y1="892.2" x2="67.5" y2="901.3" stroke-width="1.15"/>
<line x1="740.5" y1="892.2" x2="740.5" y2="901.3" stroke-width="1.15"/>
<rect x="399.5" y="902.0999999999999" width="6" height="5.2" stroke-width="1.2" fill="none"/>
<rect x="82.5" y="812" width="1.3" height="1.8" stroke="none" fill="#000"/>
<rect x="80.8" y="816.5" width="1.3" height="1.8" stroke="none" fill="#000"/>
<rect x="84.5" y="818.5" width="1.3" height="1.8" stroke="none" fill="#000"/>
<rect x="81.5" y="823" width="1.3" height="1.8" stroke="none" fill="#000"/>
<text transform="translate(67.70,46.00) scale(0.758,1)" font-size="26.16" fill="#000" stroke="#000" stroke-width="0.45" vector-effect="non-scaling-stroke">E</text>
<text transform="translate(80.23,46.00) scale(0.786,1)" font-size="26.16" fill="#000" stroke="#000" stroke-width="0.45" vector-effect="non-scaling-stroke">S</text>
<text transform="translate(92.91,46.00) scale(0.768,1)" font-size="26.16" fill="#000" stroke="#000" stroke-width="0.45" vector-effect="non-scaling-stroke">P</text>
<text transform="translate(106.68,46.00) scale(0.972,1)" font-size="26.16" fill="#000" stroke="#000" stroke-width="0.45" vector-effect="non-scaling-stroke">8</text>
<text transform="translate(120.80,46.00) scale(0.986,1)" font-size="26.16" fill="#000" stroke="#000" stroke-width="0.45" vector-effect="non-scaling-stroke">0</text>
<text transform="translate(139.91,46.00) scale(0.830,1)" font-size="26.16" fill="#000" stroke="#000" stroke-width="0.45" vector-effect="non-scaling-stroke">s</text>
<text transform="translate(150.17,46.00) scale(0.907,1)" font-size="26.16" fill="#000" stroke="#000" stroke-width="0.45" vector-effect="non-scaling-stroke">e</text>
<text transform="translate(162.94,46.00) scale(1.113,1)" font-size="26.16" fill="#000" stroke="#000" stroke-width="0.45" vector-effect="non-scaling-stroke">r</text>
<text transform="translate(172.62,46.00) scale(1.000,1)" font-size="26.16" fill="#000" stroke="#000" stroke-width="0.45" vector-effect="non-scaling-stroke">i</text>
<text transform="translate(178.23,46.00) scale(0.968,1)" font-size="26.16" fill="#000" stroke="#000" stroke-width="0.45" vector-effect="non-scaling-stroke">e</text>
<text transform="translate(191.87,46.00) scale(0.797,1)" font-size="26.16" fill="#000" stroke="#000" stroke-width="0.45" vector-effect="non-scaling-stroke">s</text>
<text transform="translate(55.34,327.90) scale(0.757,1)" font-size="19.11" fill="#000" stroke="#000" stroke-width="0.15" vector-effect="non-scaling-stroke">E</text>
<text transform="translate(64.30,327.90) scale(0.806,1)" font-size="19.11" fill="#000" stroke="#000" stroke-width="0.15" vector-effect="non-scaling-stroke">S</text>
<text transform="translate(74.45,327.90) scale(0.811,1)" font-size="19.11" fill="#000" stroke="#000" stroke-width="0.15" vector-effect="non-scaling-stroke">P</text>
<text transform="translate(85.27,327.90) scale(0.985,1)" font-size="19.11" fill="#000" stroke="#000" stroke-width="0.15" vector-effect="non-scaling-stroke">8</text>
<text transform="translate(95.44,327.90) scale(0.977,1)" font-size="19.11" fill="#000" stroke="#000" stroke-width="0.15" vector-effect="non-scaling-stroke">0</text>
<text transform="translate(106.49,327.90) scale(0.919,1)" font-size="19.11" fill="#000" stroke="#000" stroke-width="0.15" vector-effect="non-scaling-stroke">*</text>
<text transform="translate(113.16,327.90) scale(1.209,1)" font-size="19.11" fill="#000" stroke="#000" stroke-width="0.15" vector-effect="non-scaling-stroke">/</text>
<text transform="translate(119.96,327.90) scale(0.863,1)" font-size="19.11" fill="#000" stroke="#000" stroke-width="0.15" vector-effect="non-scaling-stroke">D</text>
<text transform="translate(132.69,327.90) scale(1.000,1)" font-size="19.11" fill="#000" stroke="#000" stroke-width="0.15" vector-effect="non-scaling-stroke">.</text>
<text transform="translate(138.04,327.90) scale(1.000,1)" font-size="19.11" fill="#000" stroke="#000" stroke-width="0.15" vector-effect="non-scaling-stroke">.</text>
<text transform="translate(142.19,327.90) scale(1.000,1)" font-size="19.11" fill="#000" stroke="#000" stroke-width="0.15" vector-effect="non-scaling-stroke">.</text>
<text transform="translate(146.05,327.90) scale(0.786,1)" font-size="19.11" fill="#000" stroke="#000" stroke-width="0.15" vector-effect="non-scaling-stroke">E</text>
<text transform="translate(155.49,327.90) scale(0.793,1)" font-size="19.11" fill="#000" stroke="#000" stroke-width="0.15" vector-effect="non-scaling-stroke">S</text>
<text transform="translate(165.65,327.90) scale(0.796,1)" font-size="19.11" fill="#000" stroke="#000" stroke-width="0.15" vector-effect="non-scaling-stroke">P</text>
<text transform="translate(175.89,327.90) scale(1.027,1)" font-size="19.11" fill="#000" stroke="#000" stroke-width="0.15" vector-effect="non-scaling-stroke">8</text>
<text transform="translate(187.23,327.90) scale(0.961,1)" font-size="19.11" fill="#000" stroke="#000" stroke-width="0.15" vector-effect="non-scaling-stroke">0</text>
<text transform="translate(197.06,327.90) scale(0.886,1)" font-size="19.11" fill="#000" stroke="#000" stroke-width="0.15" vector-effect="non-scaling-stroke">*</text>
<text transform="translate(204.11,327.90) scale(1.266,1)" font-size="19.11" fill="#000" stroke="#000" stroke-width="0.15" vector-effect="non-scaling-stroke">/</text>
<text transform="translate(211.96,327.90) scale(0.761,1)" font-size="19.11" fill="#000" stroke="#000" stroke-width="0.15" vector-effect="non-scaling-stroke">F</text>
<text transform="translate(309.94,325.90) scale(0.822,1)" font-size="18.90" fill="#000" stroke="#000" stroke-width="0.15" vector-effect="non-scaling-stroke">E</text>
<text transform="translate(319.49,325.90) scale(0.822,1)" font-size="18.90" fill="#000" stroke="#000" stroke-width="0.15" vector-effect="non-scaling-stroke">S</text>
<text transform="translate(329.59,325.90) scale(0.834,1)" font-size="18.90" fill="#000" stroke="#000" stroke-width="0.15" vector-effect="non-scaling-stroke">P</text>
<text transform="translate(339.95,325.90) scale(1.057,1)" font-size="18.90" fill="#000" stroke="#000" stroke-width="0.15" vector-effect="non-scaling-stroke">8</text>
<text transform="translate(350.68,325.90) scale(0.989,1)" font-size="18.90" fill="#000" stroke="#000" stroke-width="0.15" vector-effect="non-scaling-stroke">0</text>
<text transform="translate(361.16,325.90) scale(0.939,1)" font-size="18.90" fill="#000" stroke="#000" stroke-width="0.15" vector-effect="non-scaling-stroke">*</text>
<text transform="translate(368.43,325.90) scale(1.225,1)" font-size="18.90" fill="#000" stroke="#000" stroke-width="0.15" vector-effect="non-scaling-stroke">/</text>
<text transform="translate(375.21,325.90) scale(0.923,1)" font-size="18.90" fill="#000" stroke="#000" stroke-width="0.15" vector-effect="non-scaling-stroke">H</text>
<text transform="translate(593.60,324.50) scale(0.699,1)" font-size="20.06" fill="#000" stroke="#000" stroke-width="0.15" vector-effect="non-scaling-stroke">E</text>
<text transform="translate(602.22,324.50) scale(0.721,1)" font-size="20.06" fill="#000" stroke="#000" stroke-width="0.15" vector-effect="non-scaling-stroke">S</text>
<text transform="translate(611.91,324.50) scale(0.708,1)" font-size="20.06" fill="#000" stroke="#000" stroke-width="0.15" vector-effect="non-scaling-stroke">P</text>
<text transform="translate(622.68,324.50) scale(0.882,1)" font-size="20.06" fill="#000" stroke="#000" stroke-width="0.15" vector-effect="non-scaling-stroke">8</text>
<text transform="translate(632.99,324.50) scale(0.922,1)" font-size="20.06" fill="#000" stroke="#000" stroke-width="0.15" vector-effect="non-scaling-stroke">0</text>
<text transform="translate(644.52,324.50) scale(0.654,1)" font-size="20.06" fill="#000" stroke="#000" stroke-width="0.15" vector-effect="non-scaling-stroke">1</text>
<text transform="translate(346.58,646.90) scale(0.683,1)" font-size="19.77" fill="#000" stroke="#000" stroke-width="0.15" vector-effect="non-scaling-stroke">E</text>
<text transform="translate(354.81,646.90) scale(0.734,1)" font-size="19.77" fill="#000" stroke="#000" stroke-width="0.15" vector-effect="non-scaling-stroke">S</text>
<text transform="translate(364.89,646.90) scale(0.721,1)" font-size="19.77" fill="#000" stroke="#000" stroke-width="0.15" vector-effect="non-scaling-stroke">P</text>
<text transform="translate(375.67,646.90) scale(0.897,1)" font-size="19.77" fill="#000" stroke="#000" stroke-width="0.15" vector-effect="non-scaling-stroke">8</text>
<text transform="translate(385.97,646.90) scale(0.938,1)" font-size="19.77" fill="#000" stroke="#000" stroke-width="0.15" vector-effect="non-scaling-stroke">0</text>
<text transform="translate(397.15,646.90) scale(0.874,1)" font-size="19.77" fill="#000" stroke="#000" stroke-width="0.15" vector-effect="non-scaling-stroke">2</text>
<text transform="translate(338.60,948.10) scale(0.670,1)" font-size="20.06" fill="#000" stroke="#000" stroke-width="0.15" vector-effect="non-scaling-stroke">E</text>
<text transform="translate(346.82,948.10) scale(0.720,1)" font-size="20.06" fill="#000" stroke="#000" stroke-width="0.15" vector-effect="non-scaling-stroke">S</text>
<text transform="translate(356.91,948.10) scale(0.708,1)" font-size="20.06" fill="#000" stroke="#000" stroke-width="0.15" vector-effect="non-scaling-stroke">P</text>
<text transform="translate(367.68,948.10) scale(0.882,1)" font-size="20.06" fill="#000" stroke="#000" stroke-width="0.15" vector-effect="non-scaling-stroke">8</text>
<text transform="translate(377.99,948.10) scale(0.922,1)" font-size="20.06" fill="#000" stroke="#000" stroke-width="0.15" vector-effect="non-scaling-stroke">0</text>
<text transform="translate(389.73,948.10) scale(0.802,1)" font-size="20.06" fill="#000" stroke="#000" stroke-width="0.15" vector-effect="non-scaling-stroke">3</text>
</svg>
</body></html>
